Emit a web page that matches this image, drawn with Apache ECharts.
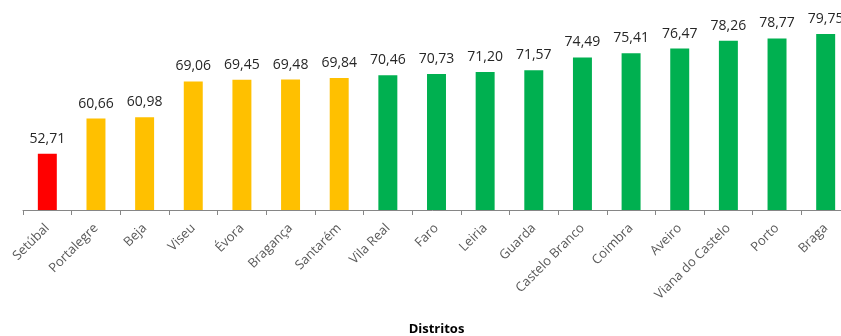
<!DOCTYPE html>
<html>
<head>
<meta charset="utf-8">
<script src="https://cdn.jsdelivr.net/npm/echarts@6/dist/echarts.min.js"></script>
<style>
  html, body { margin: 0; padding: 0; background: #fff; }
  #chart { width: 841px; height: 336px; }
</style>
</head>
<body>
<div id="chart"></div>
<script>
// distritos e valores
var categories = ['Setúbal', 'Portalegre', 'Beja', 'Viseu', 'Évora', 'Bragança', 'Santarém',
  'Vila Real', 'Faro', 'Leiria', 'Guarda', 'Castelo Branco', 'Coimbra', 'Aveiro',
  'Viana do Castelo', 'Porto', 'Braga']
var values = [52.71, 60.66, 60.98, 69.06, 69.45, 69.48, 69.84,
  70.46, 70.73, 71.20, 71.57, 74.49, 75.41, 76.47,
  78.26, 78.77, 79.75]

var RED = '#FF0000'
var YELLOW = '#FFC000'
var GREEN = '#00B050'

function barColor(v) {
  if (v < 60) return RED
  if (v < 70) return YELLOW
  return GREEN
}

var chart = echarts.init(document.getElementById('chart'))

chart.setOption({
  animation: false,
  textStyle: { fontFamily: 'Open Sans' },
  grid: {
    left: 23,
    right: -9,
    top: 33,
    bottom: 126,
    outerBoundsMode: 'none'
  },
  xAxis: {
    type: 'category',
    data: categories,
    name: 'Distritos',
    nameLocation: 'middle',
    nameGap: 113,
    nameTextStyle: { fontWeight: 'bold', fontSize: 13, color: '#000' },
    axisLine: { lineStyle: { color: '#868686', width: 1 } },
    axisTick: { show: true, length: 5, lineStyle: { color: '#868686' } },
    axisLabel: { rotate: 45, fontSize: 13, color: '#595959', margin: 16, interval: 0 }
  },
  yAxis: {
    type: 'value',
    min: 40,
    max: 80,
    show: false,
    splitLine: { show: false }
  },
  series: [{
    type: 'bar',
    barWidth: '39%',
    data: values.map(function (v) {
      return { value: v, itemStyle: { color: barColor(v) } }
    }),
    label: {
      show: true,
      position: 'top',
      distance: 8,
      fontSize: 14,
      color: '#262626',
      formatter: function (p) {
        return p.value.toFixed(2).replace('.', ',')
      }
    }
  }]
})
</script>
</body>
</html>
